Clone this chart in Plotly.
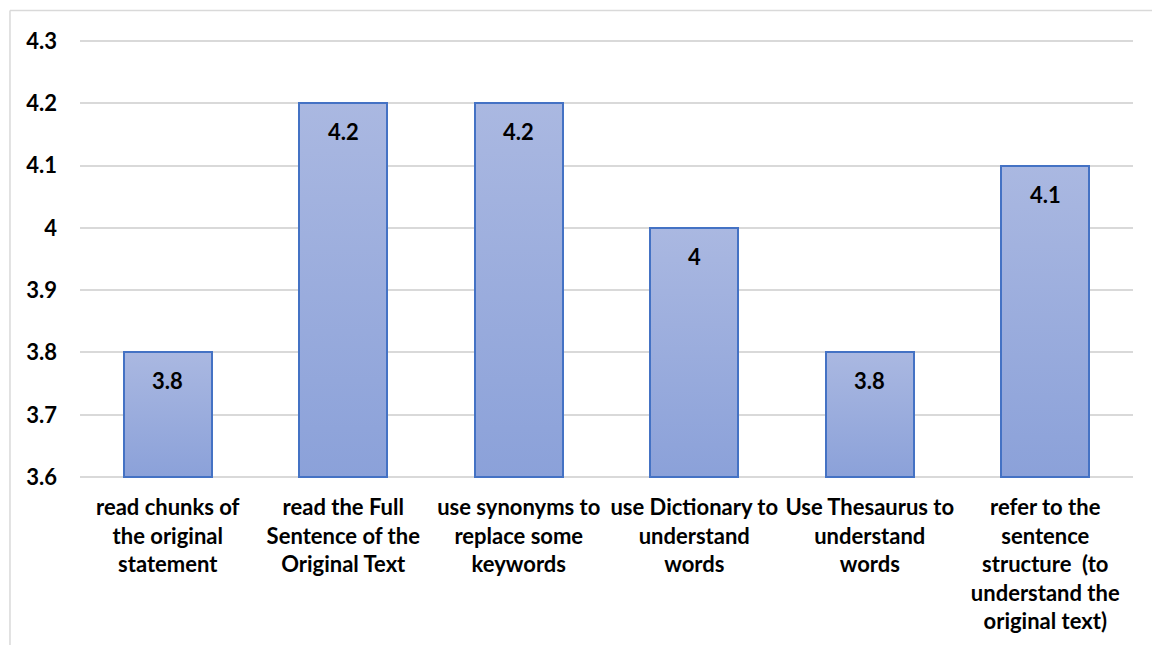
import plotly.graph_objects as go

# Mean rating per reading strategy
categories = [
    "read chunks of<br>the original<br>statement",
    "read the Full<br>Sentence of the<br>Original Text",
    "use synonyms to<br>replace some<br>keywords",
    "use Dictionary to<br>understand<br>words",
    "Use Thesaurus to<br>understand<br>words",
    "refer to the<br>sentence<br>structure  (to<br>understand the<br>original text)",
]
values = [3.8, 4.2, 4.2, 4.0, 3.8, 4.1]
y_ticks = [3.6, 3.7, 3.8, 3.9, 4.0, 4.1, 4.2, 4.3]
y_tick_text = ["3.6", "3.7", "3.8", "3.9", "4", "4.1", "4.2", "4.3"]

AXIS_MIN, AXIS_MAX = 3.6, 4.3
PAD = 0.003  # keeps the end gridlines inside the plot area
BAR_WIDTH = 0.5
FONT = "Lato, Calibri, sans-serif"
FONT_SIZE = 22
EDGE = "#4472C4"
TOP_COLOR = "#AAB8E1"
BOTTOM_COLOR = "#8BA1D9"
GRID = "#D9D9D9"

positions = list(range(len(categories)))
fig = go.Figure()

# Gradient-filled bar bodies (light at top, deeper blue at the base)
for x, v in zip(positions, values):
    fig.add_trace(go.Scatter(
        x=[x - BAR_WIDTH / 2, x + BAR_WIDTH / 2, x + BAR_WIDTH / 2, x - BAR_WIDTH / 2, x - BAR_WIDTH / 2],
        y=[AXIS_MIN, AXIS_MIN, v, v, AXIS_MIN],
        mode="lines",
        line=dict(width=0),
        fill="toself",
        fillgradient=dict(type="vertical",
                          colorscale=[[0, BOTTOM_COLOR], [1, TOP_COLOR]]),
        hoverinfo="skip",
        showlegend=False,
        xaxis="x", yaxis="y",
    ))

# Bar outlines on an overlaid axis pair so they sit above the fills
fig.add_trace(go.Bar(
    x=positions,
    y=[v - AXIS_MIN for v in values],
    base=AXIS_MIN,
    width=BAR_WIDTH,
    marker=dict(color="rgba(0,0,0,0)", line=dict(color=EDGE, width=2)),
    showlegend=False,
    xaxis="x2", yaxis="y2",
))

# Value labels just inside the top of each bar
for x, v in zip(positions, values):
    fig.add_annotation(
        x=x, y=v, xref="x", yref="y",
        text=f"{v:g}", showarrow=False,
        yanchor="top", yshift=-13,
        font=dict(family=FONT, size=FONT_SIZE, color="#000000", weight="bold"),
    )

axis_x = dict(range=[-0.5, len(categories) - 0.5], showgrid=False, zeroline=False,
              showline=False, ticks="", automargin=False)
axis_y = dict(range=[AXIS_MIN - PAD, AXIS_MAX + PAD], zeroline=False, showline=False,
              ticks="", automargin=False)

fig.update_layout(
    width=1152, height=645,
    margin=dict(l=80, r=19, t=39, b=166),
    paper_bgcolor="white", plot_bgcolor="white",
    bargap=0,
    xaxis=dict(**axis_x, tickmode="array", tickvals=positions, ticktext=categories,
               tickangle=0, ticklabelstandoff=13,
               tickfont=dict(family=FONT, size=FONT_SIZE, color="#000000", weight="bold")),
    yaxis=dict(**axis_y, tickmode="array", tickvals=y_ticks, ticktext=y_tick_text,
               showgrid=True, gridcolor=GRID, gridwidth=1.5, ticklabelstandoff=22,
               tickfont=dict(family=FONT, size=FONT_SIZE, color="#000000", weight="bold")),
    xaxis2=dict(**axis_x, overlaying="x", showticklabels=False),
    yaxis2=dict(**axis_y, overlaying="y", showgrid=False, showticklabels=False),
    shapes=[
        # outer chart frame (left and top edges)
        dict(type="line", xref="paper", yref="paper", x0=-0.0665, x1=-0.0665,
             y0=-0.4, y1=1.065, line=dict(color=GRID, width=1.5)),
        dict(type="line", xref="paper", yref="paper", x0=-0.0665, x1=1.02,
             y0=1.065, y1=1.065, line=dict(color=GRID, width=1.5)),
    ],
)

fig.write_html("out.html")
